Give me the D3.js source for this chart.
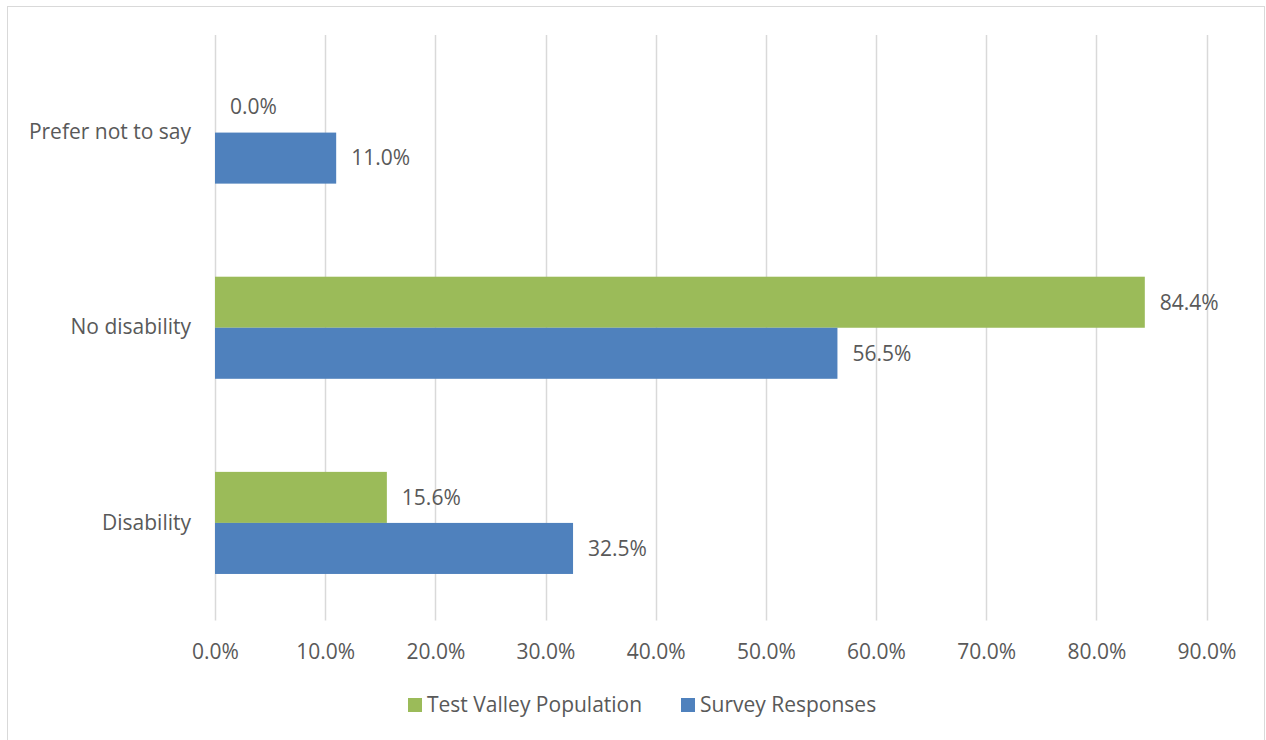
<!DOCTYPE html>
<html><head><meta charset="utf-8">
<script src="https://cdn.jsdelivr.net/npm/d3@7"></script>
<style>
html,body{margin:0;padding:0;background:#fff;}
text{font-family:"Open Sans","Noto Sans",sans-serif;fill:#595959;}
</style></head>
<body><svg id="c" width="1266" height="740"></svg>
<script>
const categories = ["Prefer not to say", "No disability", "Disability"];
const seriesNames = ["Test Valley Population", "Survey Responses"];
const populationValues = [0.0, 84.4, 15.6];
const surveyValues = [11.0, 56.5, 32.5];
const tickValues = [0, 10, 20, 30, 40, 50, 60, 70, 80, 90];
const colors = ["#9BBB59", "#4F81BD"];
const FS = 21;

const svg = d3.select("#c");
svg.append("rect").attr("x",7.5).attr("y",6.5).attr("width",1257).attr("height",740)
  .attr("fill","#fff").attr("stroke","#d9d9d9").attr("stroke-width",1);

const x = d3.scaleLinear().domain([0,90]).range([215,1206.5]);
const y = d3.scaleBand().domain(categories).range([35,620.5]).paddingInner(93/195).paddingOuter(93/195/2);
const ys = d3.scaleBand().domain(seriesNames).range([0,y.bandwidth()]);

// gridlines
svg.append("g").selectAll("line").data(tickValues).join("line")
  .attr("x1",d=>Math.round(x(d))+0.5).attr("x2",d=>Math.round(x(d))+0.5)
  .attr("y1",35).attr("y2",620.5).attr("stroke","#d9d9d9").attr("stroke-width",1.5);

// x tick labels
const xa = d3.axisBottom(x).tickValues(tickValues).tickFormat(d=>d.toFixed(1)+"%").tickSize(0).tickPadding(0);
const xg = svg.append("g").attr("transform","translate(0,652)").call(xa);
xg.select(".domain").remove();
xg.selectAll("text").attr("font-size",FS).attr("dy","0.35em").style("fill","#595959");

// y labels
const ya = d3.axisLeft(y).tickSize(0).tickPadding(24);
const yg = svg.append("g").attr("transform","translate(215,0)").call(ya);
yg.select(".domain").remove();
yg.selectAll("text").attr("font-size",FS).style("fill","#595959");

const rows = categories.map((c,i)=>({c, vals:[populationValues[i], surveyValues[i]]}));
const g = svg.append("g");
rows.forEach(r=>{
  r.vals.forEach((v,j)=>{
    const yy = y(r.c)+ys(seriesNames[j]);
    g.append("rect").attr("x",x(0)).attr("y",yy).attr("width",x(v)-x(0)).attr("height",ys.bandwidth())
      .attr("fill",colors[j]);
    g.append("text").attr("x",x(v)+15).attr("y",yy+ys.bandwidth()/2).attr("dy","0.35em")
      .attr("font-size",FS).text(v.toFixed(1)+"%");
  });
});

// legend
const leg = svg.append("g");
const legX = [408, 681];
seriesNames.forEach((s,i)=>{
  leg.append("rect").attr("x",legX[i]).attr("y",698).attr("width",14).attr("height",14).attr("fill",colors[i]);
  leg.append("text").attr("x",legX[i]+19).attr("y",705).attr("dy","0.35em").attr("font-size",FS).text(s);
});
</script></body></html>
